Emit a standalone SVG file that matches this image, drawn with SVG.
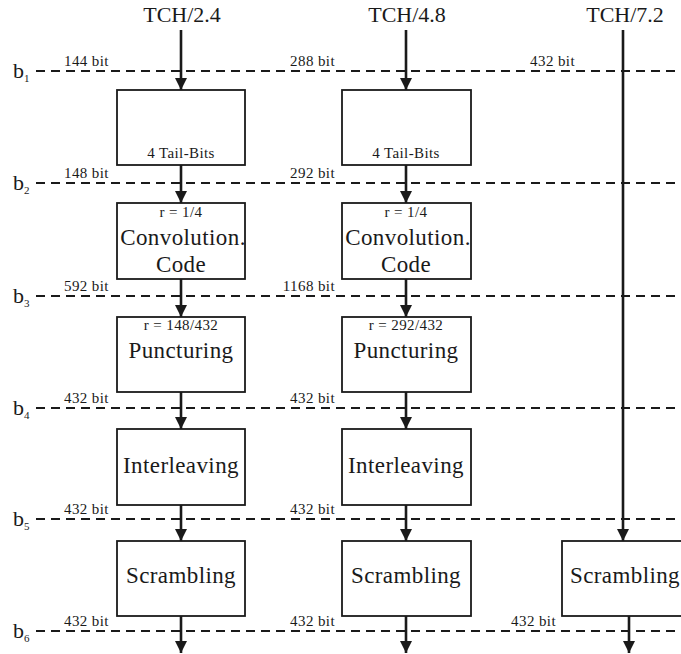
<svg xmlns="http://www.w3.org/2000/svg" width="681" height="654" viewBox="0 0 681 654" font-family="'Liberation Serif', 'DejaVu Serif', serif">
  <defs>
    <marker id="ah" viewBox="0 0 12 12" refX="12" refY="6" markerWidth="12" markerHeight="12" markerUnits="userSpaceOnUse" orient="auto">
      <path d="M0,0 L12,6 L0,12 Z" fill="#1a1a1a"/>
    </marker>
  </defs>
  <style>
    text { font-family: 'Liberation Serif', 'DejaVu Serif', serif; fill: #1a1a1a; }
    .ttl { font-size: 22px; text-anchor: middle; }
    .big { font-size: 23px; text-anchor: middle; letter-spacing: 0.4px; }
    .sm { font-size: 15px; letter-spacing: 0.4px; }
    .smc { font-size: 15px; text-anchor: middle; letter-spacing: 0.4px; }
    .bl { font-size: 22px; }
    .sub { font-size: 11px; }
    .box { fill: #fff; stroke: #1a1a1a; stroke-width: 1.8; }
    .dash { stroke: #1a1a1a; stroke-width: 1.8; stroke-dasharray: 9 6; fill: none; }
    .arr { stroke: #1a1a1a; stroke-width: 2.6; fill: none; marker-end: url(#ah); }
  </style>
  <rect width="681" height="654" fill="#fff"/>

  <!-- bit-stage reference lines -->
  <g id="levels">
    <line class="dash" x1="36" y1="71" x2="681" y2="71"/>
    <line class="dash" x1="36" y1="183" x2="681" y2="183"/>
    <line class="dash" x1="36" y1="296" x2="681" y2="296"/>
    <line class="dash" x1="36" y1="408" x2="681" y2="408"/>
    <line class="dash" x1="36" y1="519" x2="681" y2="519"/>
    <line class="dash" x1="36" y1="631" x2="681" y2="631"/>
    <text class="bl" x="13" y="78">b<tspan class="sub" dy="4">1</tspan></text>
    <text class="bl" x="13" y="190">b<tspan class="sub" dy="4">2</tspan></text>
    <text class="bl" x="13" y="303">b<tspan class="sub" dy="4">3</tspan></text>
    <text class="bl" x="13" y="415">b<tspan class="sub" dy="4">4</tspan></text>
    <text class="bl" x="13" y="526">b<tspan class="sub" dy="4">5</tspan></text>
    <text class="bl" x="13" y="638">b<tspan class="sub" dy="4">6</tspan></text>
  </g>

  <!-- bit counts -->
  <g id="bitcounts">
    <text class="sm" x="64" y="66">144 bit</text>
    <text class="sm" x="64" y="178">148 bit</text>
    <text class="sm" x="64" y="291">592 bit</text>
    <text class="sm" x="64" y="403">432 bit</text>
    <text class="sm" x="64" y="514">432 bit</text>
    <text class="sm" x="64" y="626">432 bit</text>
    <text class="sm" x="335" y="66" text-anchor="end">288 bit</text>
    <text class="sm" x="335" y="178" text-anchor="end">292 bit</text>
    <text class="sm" x="335" y="291" text-anchor="end">1168 bit</text>
    <text class="sm" x="335" y="403" text-anchor="end">432 bit</text>
    <text class="sm" x="335" y="514" text-anchor="end">432 bit</text>
    <text class="sm" x="335" y="626" text-anchor="end">432 bit</text>
    <text class="sm" x="575" y="66" text-anchor="end">432 bit</text>
    <text class="sm" x="556" y="626" text-anchor="end">432 bit</text>
  </g>

  <!-- channel titles -->
  <g id="titles">
    <text class="ttl" x="182" y="22">TCH/2.4</text>
    <text class="ttl" x="407" y="22">TCH/4.8</text>
    <text class="ttl" x="625" y="22">TCH/7.2</text>
  </g>

  <!-- connectors -->
  <g id="connectors">
    <line class="arr" x1="181" y1="30" x2="181" y2="90"/>
    <line class="arr" x1="181" y1="165" x2="181" y2="203"/>
    <line class="arr" x1="181" y1="279" x2="181" y2="317"/>
    <line class="arr" x1="181" y1="392" x2="181" y2="429"/>
    <line class="arr" x1="181" y1="505" x2="181" y2="541"/>
    <line class="arr" x1="181" y1="616" x2="181" y2="653"/>
    <line class="arr" x1="406" y1="30" x2="406" y2="90"/>
    <line class="arr" x1="406" y1="165" x2="406" y2="203"/>
    <line class="arr" x1="406" y1="279" x2="406" y2="317"/>
    <line class="arr" x1="406" y1="392" x2="406" y2="429"/>
    <line class="arr" x1="406" y1="505" x2="406" y2="541"/>
    <line class="arr" x1="406" y1="616" x2="406" y2="653"/>
    <line class="arr" x1="623" y1="30" x2="623" y2="541"/>
    <line class="arr" x1="629" y1="616" x2="629" y2="653"/>
  </g>

  <!-- TCH/2.4 chain -->
  <g id="tail1"><rect class="box" x="117" y="90" width="128" height="75"/><text class="smc" x="181" y="158">4 Tail-Bits</text></g>
  <g id="conv1"><rect class="box" x="117" y="203" width="128" height="76"/><text class="smc" x="181" y="217">r = 1/4</text><text class="big" x="183" y="245">Convolution.</text><text class="big" x="181" y="272">Code</text></g>
  <g id="punct1"><rect class="box" x="117" y="317" width="128" height="75"/><text class="smc" x="181" y="330">r = 148/432</text><text class="big" x="181" y="358">Puncturing</text></g>
  <g id="inter1"><rect class="box" x="117" y="429" width="128" height="76"/><text class="big" x="181" y="473">Interleaving</text></g>
  <g id="scram1"><rect class="box" x="117" y="541" width="128" height="75"/><text class="big" x="181" y="583">Scrambling</text></g>

  <!-- TCH/4.8 chain -->
  <g id="tail2"><rect class="box" x="342" y="90" width="129" height="75"/><text class="smc" x="406" y="158">4 Tail-Bits</text></g>
  <g id="conv2"><rect class="box" x="342" y="203" width="129" height="76"/><text class="smc" x="406" y="217">r = 1/4</text><text class="big" x="408" y="245">Convolution.</text><text class="big" x="406" y="272">Code</text></g>
  <g id="punct2"><rect class="box" x="342" y="317" width="129" height="75"/><text class="smc" x="406" y="330">r = 292/432</text><text class="big" x="406" y="358">Puncturing</text></g>
  <g id="inter2"><rect class="box" x="342" y="429" width="129" height="76"/><text class="big" x="406" y="473">Interleaving</text></g>
  <g id="scram2"><rect class="box" x="342" y="541" width="129" height="75"/><text class="big" x="406" y="583">Scrambling</text></g>

  <!-- TCH/7.2 chain -->
  <g id="scram3"><rect class="box" x="562" y="541" width="130" height="75"/><text class="big" x="625" y="583">Scrambling</text></g>
</svg>
